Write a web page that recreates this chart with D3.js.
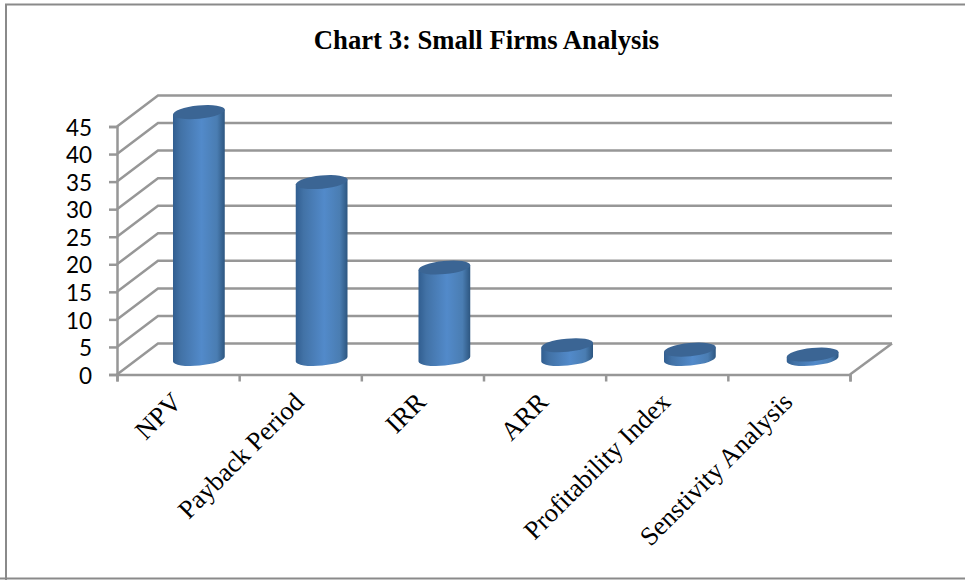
<!DOCTYPE html>
<html>
<head>
<meta charset="utf-8">
<style>
  html, body { margin: 0; padding: 0; background: #fff; }
  svg { display: block; }
</style>
<script src="https://d3js.org/d3.v7.min.js"></script>
</head>
<body>
<svg id="chart" width="965" height="580"></svg>
<script>
// Survey results for small firms, one cylinder per appraisal technique.
const categories = ["NPV", "Payback Period", "IRR", "ARR", "Profitability Index", "Sensitivity Analysis"];
const categoryLabels = ["NPV", "Payback Period", "IRR", "ARR", "Profitability Index", "Senstivity Analysis"];
const values = [44.8, 32.1, 16.6, 2.5, 1.7, 0.8];
const yTicks = [0, 5, 10, 15, 20, 25, 30, 35, 40, 45];
const chartTitle = "Chart 3: Small Firms Analysis";

const svg = d3.select("#chart");

// Oblique projection: the floor runs back and up from the front edge.
const depthX = 41, depthY = -31;
const plot = { left: 117, right: 850, bottom: 374.5, top: 126.5 };

const x = d3.scaleBand().domain(categories).range([plot.left, plot.right]);
const barX = d3.scaleBand().domain(categories).range([plot.left, plot.right + 3.5]);
const y = d3.scaleLinear().domain([0, 45]).range([plot.bottom, plot.top]);
const edge = d3.scaleLinear().domain([0, categories.length]).range([plot.left, plot.right]);

const gridColor = "#979797";

// Frame around the whole chart.
svg.append("path")
  .attr("d", "M6,580V4.5H965M0,578.5H965")
  .attr("fill", "none").attr("stroke", "#8a8a8a").attr("stroke-width", 2);

svg.append("text")
  .attr("x", 486.5).attr("y", 48.5)
  .attr("text-anchor", "middle")
  .attr("font-family", "'Liberation Serif', serif")
  .attr("font-weight", "bold").attr("font-size", 26.7)
  .attr("fill", "#000")
  .text(chartTitle);

// Gradient across the cylinder wall.
const defs = svg.append("defs");
const wall = defs.append("linearGradient").attr("id", "wall")
  .attr("x1", 0).attr("x2", 1).attr("y1", 0).attr("y2", 0);
[[0, "#315e90"], [0.15, "#4272a6"], [0.55, "#528aca"], [0.85, "#4a7db2"], [1, "#2d5680"]]
  .forEach(([o, c]) => wall.append("stop").attr("offset", o).attr("stop-color", c));

// Back wall and side wall gridlines, one set per tick.
const grid = svg.append("g").attr("fill", "none")
  .attr("stroke", gridColor).attr("stroke-width", 2.5);
grid.selectAll("path").data(yTicks).join("path")
  .attr("d", t => d3.line()([
    [plot.left, y(t)],
    [plot.left + depthX, y(t) + depthY],
    [plot.right + depthX + 1, y(t) + depthY]
  ]));

// Right-hand edge of the floor.
grid.append("path").attr("d", d3.line()([
  [plot.right, plot.bottom],
  [plot.right + depthX + 1, plot.bottom + depthY]
]));

// Value axis: ticks and labels from the scale.
const yAxis = svg.append("g").attr("transform", `translate(${plot.left},0)`)
  .call(d3.axisLeft(y).tickValues(yTicks).tickSize(8).tickPadding(17));
yAxis.selectAll("path, line").attr("stroke", gridColor).attr("stroke-width", 2.5);
yAxis.selectAll("text")
  .attr("y", 1.5)
  .attr("font-family", "Lato, sans-serif").attr("font-size", 22.5).attr("fill", "#000");

// Category axis: ticks fall on the band edges.
const xAxis = svg.append("g").attr("transform", `translate(0,${plot.bottom})`)
  .call(d3.axisBottom(edge).ticks(categories.length).tickSize(7).tickFormat(""));
xAxis.selectAll("path, line").attr("stroke", gridColor).attr("stroke-width", 2.5);

svg.append("g").selectAll("text").data(categoryLabels).join("text")
  .attr("transform", (d, i) =>
    `translate(${x(categories[i]) + x.bandwidth() / 2 - 8},${plot.bottom + 16}) rotate(-45)`)
  .attr("text-anchor", "end")
  .attr("dy", "0.7em")
  .attr("font-family", "'Liberation Serif', serif")
  .attr("font-size", 26.4).attr("fill", "#000")
  .text(d => d);

// Cylinders stand halfway back on the floor; ellipses lean with the projection.
const rx = 26, ry = 6.6, tilt = -5.5;
const rad = tilt * Math.PI / 180;
const ex = rx * Math.cos(rad), ey = rx * Math.sin(rad);
const bars = svg.append("g").selectAll("g").data(values).join("g")
  .attr("transform", (d, i) =>
    `translate(${barX(categories[i]) + barX.bandwidth() / 2 + depthX / 2},${depthY / 2})`);

bars.append("path")
  .attr("fill", "url(#wall)")
  .attr("d", d => {
    const top = y(d), base = y(0);
    return `M${-ex},${top - ey}L${-ex},${base - ey}` +
      `A${rx},${ry} ${tilt} 0 0 ${ex},${base + ey}` +
      `L${ex},${top + ey}Z`;
  });

bars.append("ellipse")
  .attr("rx", rx).attr("ry", ry)
  .attr("transform", d => `translate(0,${y(d)}) rotate(${tilt})`)
  .attr("fill", "#3b6594");
</script>
</body>
</html>
